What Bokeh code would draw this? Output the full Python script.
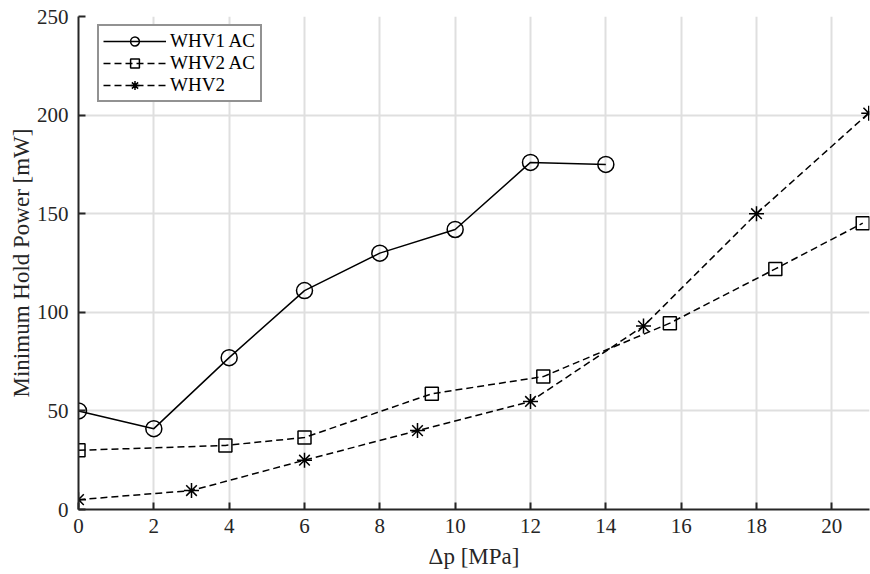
from bokeh.plotting import figure
from bokeh.models import Range1d, Legend, LegendItem, FixedTicker
from bokeh.embed import file_html
from bokeh.resources import INLINE

# Data
whv1_ac_x = [0, 2, 4, 6, 8, 10, 12, 14]
whv1_ac_y = [50, 41, 77, 111, 130, 142, 176, 175]

whv2_ac_x = [0, 3.9, 6.0, 9.38, 12.34, 15.7, 18.5, 20.82]
whv2_ac_y = [30, 32.5, 36.5, 58.7, 67.4, 94.5, 122, 145.2]

whv2_x = [0, 3, 6, 9, 12, 15, 18, 20.98]
whv2_y = [5, 9.6, 25, 40, 54.8, 93, 150, 201]

x_ticks = [0, 2, 4, 6, 8, 10, 12, 14, 16, 18, 20]
y_ticks = [0, 50, 100, 150, 200, 250]

FONT = "Liberation Serif"
AX = "#262626"

p = figure(width=870, height=574, output_backend="svg", toolbar_location=None,
           x_range=Range1d(0, 21), y_range=Range1d(0, 250),
           min_border_left=78, min_border_top=16, min_border_right=1, min_border_bottom=65)

p.outline_line_color = None

for ax in (p.xaxis[0], p.yaxis[0]):
    ax.axis_line_color = AX
    ax.axis_line_width = 2
    ax.major_tick_line_color = AX
    ax.major_tick_line_width = 2
    ax.major_tick_in = 7
    ax.major_tick_out = 0
    ax.minor_tick_line_color = None
    ax.major_label_text_font = FONT
    ax.major_label_text_font_size = "21px"
    ax.major_label_text_color = AX
    ax.axis_label_text_font = FONT
    ax.axis_label_text_font_size = "23px"
    ax.axis_label_text_font_style = "normal"
    ax.axis_label_text_color = AX

p.xaxis[0].ticker = FixedTicker(ticks=x_ticks)
p.yaxis[0].ticker = FixedTicker(ticks=y_ticks)
p.xaxis[0].axis_label = "Δp [MPa]"
p.yaxis[0].axis_label = "Minimum Hold Power [mW]"
p.xaxis[0].major_label_standoff = 9
p.xaxis[0].axis_label_standoff = 8
p.yaxis[0].major_label_standoff = 10
p.yaxis[0].axis_label_standoff = 0

p.xgrid.ticker = FixedTicker(ticks=x_ticks)
p.ygrid.ticker = FixedTicker(ticks=y_ticks)
for g in (p.xgrid[0], p.ygrid[0]):
    g.grid_line_color = "#dfdfdf"
    g.grid_line_width = 2

l1 = p.line(whv1_ac_x, whv1_ac_y, line_color="black", line_width=1.5)
m1 = p.scatter(whv1_ac_x, whv1_ac_y, marker="circle", size=16, fill_color=None,
               line_color="black", line_width=1.5)

l2 = p.line(whv2_ac_x, whv2_ac_y, line_color="black", line_width=1.5, line_dash="7 4")
m2 = p.scatter(whv2_ac_x, whv2_ac_y, marker="square", size=13, fill_color=None,
               line_color="black", line_width=1.5)

l3 = p.line(whv2_x, whv2_y, line_color="black", line_width=1.5, line_dash="7 4")
m3 = p.scatter(whv2_x, whv2_y, marker="asterisk", size=15,
               line_color="black", line_width=1.5)

legend = Legend(items=[
    LegendItem(label="WHV1 AC", renderers=[l1, m1]),
    LegendItem(label="WHV2 AC", renderers=[l2, m2]),
    LegendItem(label="WHV2", renderers=[l3, m3]),
], location=(19, 407))
legend.glyph_width = 63
legend.glyph_height = 22
legend.label_text_font = FONT
legend.label_text_font_size = "19px"
legend.label_text_color = "black"
legend.border_line_color = AX
legend.border_line_width = 2
legend.margin = 0
legend.padding = 4
legend.spacing = 0
legend.label_standoff = 4
legend.label_width = 86
legend.background_fill_alpha = 1
p.add_layout(legend)

open("out.html", "w").write(file_html(p, INLINE))
